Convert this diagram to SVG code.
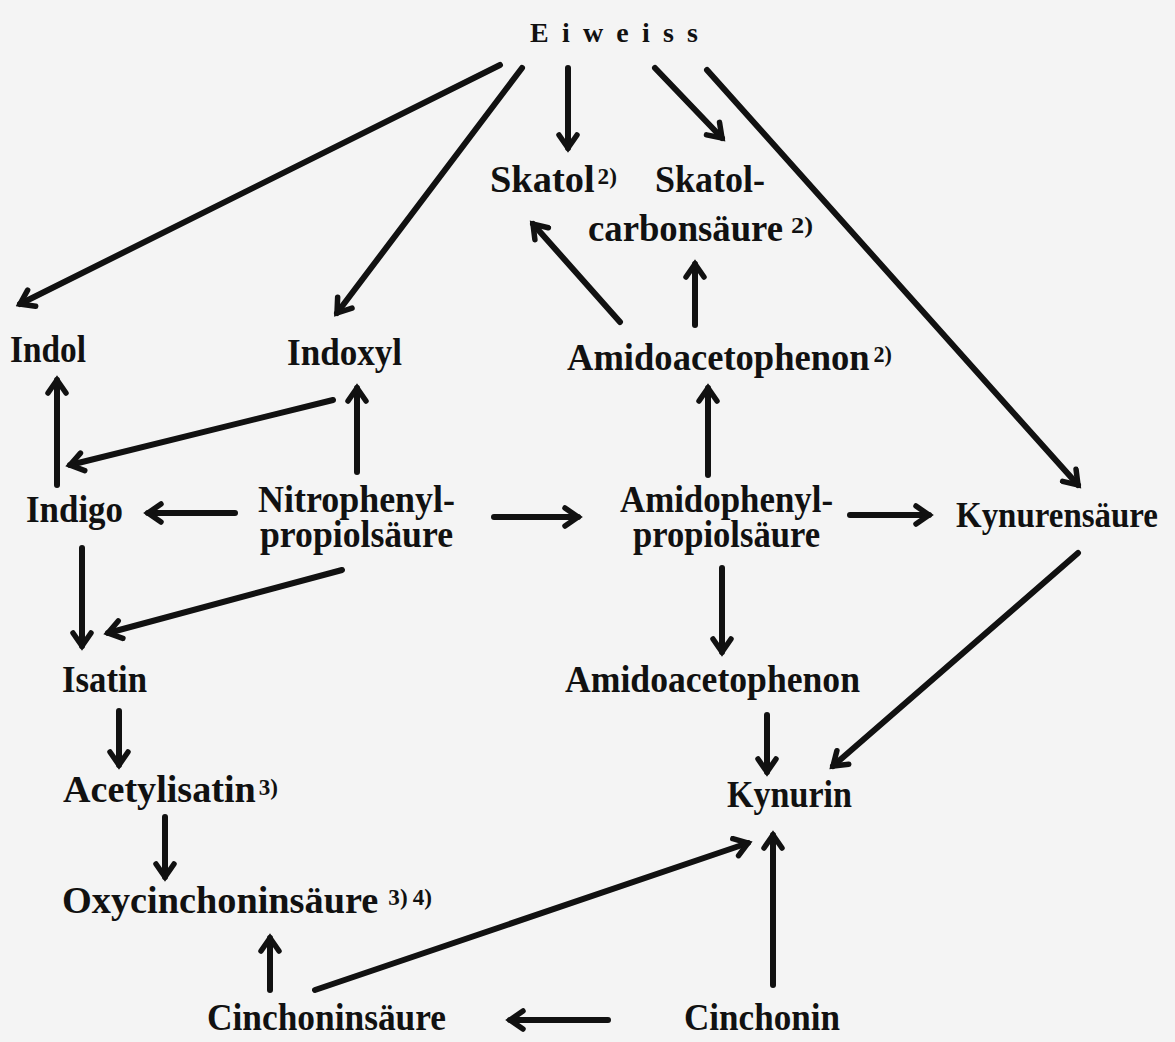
<svg xmlns="http://www.w3.org/2000/svg" width="1175" height="1042" viewBox="0 0 1175 1042">
<style>
.t{font-family:"Liberation Serif","Times New Roman",serif;font-weight:bold;font-size:38px;fill:#111}
.s{font-size:23px}
.e{font-family:"Liberation Serif","Times New Roman",serif;font-weight:bold;font-size:28px;fill:#111}
.c line{stroke:#111;stroke-width:6;stroke-linecap:round;marker-end:url(#ah)}
</style>
<defs>
<marker id="ah" markerUnits="userSpaceOnUse" viewBox="0 0 24 24" refX="19" refY="12" markerWidth="24" markerHeight="24" orient="auto">
<path d="M6,3 L19,12 L6,21" fill="none" stroke="#111" stroke-width="5.5" stroke-linecap="round" stroke-linejoin="miter"/>
</marker>
</defs>
<rect width="1175" height="1042" fill="#f4f4f4"/>
<g id="n-eiweiss"><text class="e" x="530" y="42" textLength="168" lengthAdjust="spacing">Eiweiss</text></g>
<g id="n-skatol"><text class="t" x="490" y="192" textLength="127" lengthAdjust="spacingAndGlyphs">Skatol<tspan class="s" dx="3" dy="-8">2)</tspan></text></g>
<g id="n-skatolcarbonsaeure"><text class="t"><tspan x="655" y="192" textLength="110" lengthAdjust="spacingAndGlyphs">Skatol-</tspan><tspan x="588" y="241" textLength="195" lengthAdjust="spacingAndGlyphs">carbonsäure</tspan><tspan class="s" x="791" y="233" textLength="22" lengthAdjust="spacingAndGlyphs">2)</tspan></text></g>
<g id="n-indol"><text class="t" x="10" y="362" textLength="76" lengthAdjust="spacingAndGlyphs">Indol</text></g>
<g id="n-indoxyl"><text class="t" x="287" y="365" textLength="115" lengthAdjust="spacingAndGlyphs">Indoxyl</text></g>
<g id="n-amidoacetophenon2"><text class="t" x="567" y="370" textLength="325" lengthAdjust="spacingAndGlyphs">Amidoacetophenon<tspan class="s" dx="4" dy="-8">2)</tspan></text></g>
<g id="n-indigo"><text class="t" x="26" y="522" textLength="97" lengthAdjust="spacingAndGlyphs">Indigo</text></g>
<g id="n-nitrophenyl"><text class="t"><tspan x="258" y="512" textLength="197" lengthAdjust="spacingAndGlyphs">Nitrophenyl-</tspan><tspan x="260" y="547" textLength="193" lengthAdjust="spacingAndGlyphs">propiolsäure</tspan></text></g>
<g id="n-amidophenyl"><text class="t"><tspan x="620" y="512" textLength="213" lengthAdjust="spacingAndGlyphs">Amidophenyl-</tspan><tspan x="633" y="547" textLength="187" lengthAdjust="spacingAndGlyphs">propiolsäure</tspan></text></g>
<g id="n-kynurensaeure"><text class="t" x="956" y="527" textLength="202" lengthAdjust="spacingAndGlyphs" style="font-size:35px">Kynurensäure</text></g>
<g id="n-isatin"><text class="t" x="62" y="692" textLength="85" lengthAdjust="spacingAndGlyphs">Isatin</text></g>
<g id="n-amidoacetophenon"><text class="t" x="565" y="692" textLength="295" lengthAdjust="spacingAndGlyphs">Amidoacetophenon</text></g>
<g id="n-acetylisatin"><text class="t" x="63" y="802" textLength="215" lengthAdjust="spacingAndGlyphs">Acetylisatin<tspan class="s" dx="3" dy="-7">3)</tspan></text></g>
<g id="n-kynurin"><text class="t" x="727" y="807" textLength="125" lengthAdjust="spacingAndGlyphs">Kynurin</text></g>
<g id="n-oxycinchoninsaeure"><text class="t" x="62" y="913" textLength="370" lengthAdjust="spacingAndGlyphs">Oxycinchoninsäure<tspan class="s" dx="10" dy="-8">3)</tspan><tspan class="s" dx="5">4)</tspan></text></g>
<g id="n-cinchoninsaeure"><text class="t" x="207" y="1030" textLength="239" lengthAdjust="spacingAndGlyphs">Cinchoninsäure</text></g>
<g id="n-cinchonin"><text class="t" x="684" y="1030" textLength="156" lengthAdjust="spacingAndGlyphs">Cinchonin</text></g>
<g id="connectors" class="c">
<line x1="500" y1="65" x2="20" y2="304"/>
<line x1="522" y1="68" x2="337" y2="313"/>
<line x1="568" y1="68" x2="568" y2="148"/>
<line x1="655" y1="68" x2="722" y2="138"/>
<line x1="707" y1="70" x2="1078" y2="485"/>
<line x1="620" y1="322" x2="533" y2="224"/>
<line x1="695" y1="325" x2="695" y2="264"/>
<line x1="708" y1="475" x2="708" y2="388"/>
<line x1="333" y1="400" x2="70" y2="465"/>
<line x1="357" y1="472" x2="357" y2="388"/>
<line x1="57" y1="485" x2="57" y2="380"/>
<line x1="235" y1="513" x2="148" y2="513"/>
<line x1="494" y1="517" x2="578" y2="517"/>
<line x1="850" y1="515" x2="929" y2="515"/>
<line x1="82" y1="548" x2="82" y2="646"/>
<line x1="342" y1="570" x2="108" y2="633"/>
<line x1="722" y1="568" x2="722" y2="652"/>
<line x1="1078" y1="553" x2="833" y2="766"/>
<line x1="767" y1="715" x2="767" y2="772"/>
<line x1="119" y1="711" x2="119" y2="765"/>
<line x1="165" y1="817" x2="165" y2="877"/>
<line x1="315" y1="990" x2="748" y2="843"/>
<line x1="270" y1="990" x2="270" y2="938"/>
<line x1="773" y1="985" x2="773" y2="835"/>
<line x1="608" y1="1020" x2="510" y2="1020"/>
</g>
</svg>
